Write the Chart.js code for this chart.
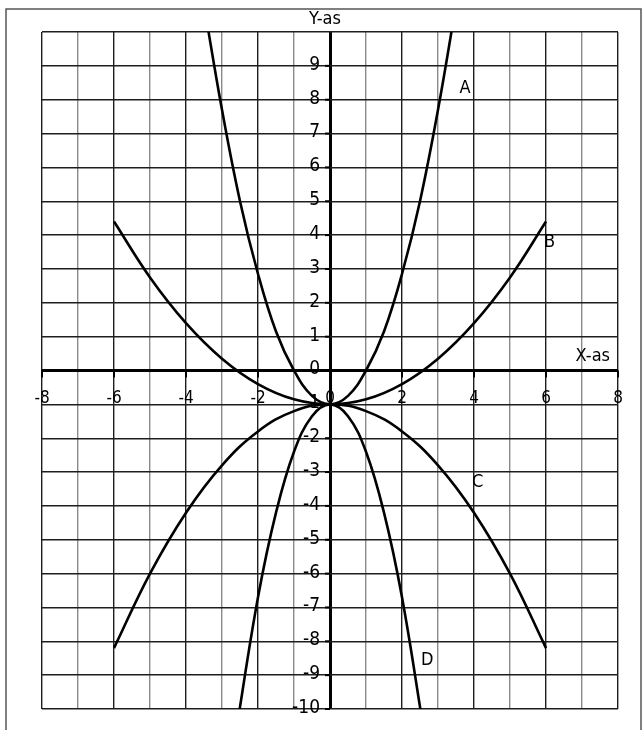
<!DOCTYPE html>
<html>
<head>
<meta charset="utf-8">
<script src="https://cdn.jsdelivr.net/npm/chart.js@4/dist/chart.umd.min.js"></script>
<style>
  html, body { margin: 0; padding: 0; background: #fff; }
  #wrap { width: 643px; height: 730px; position: relative; }
</style>
</head>
<body>
<div id="wrap"><canvas id="mycanvas" width="643" height="730"></canvas></div>
<script>
// values
var xA = [-3.5, -3, -2.5, -2, -1.5, -1, -0.5, 0, 0.5, 1, 1.5, 2, 2.5, 3, 3.5];
var yA = [10.8, 7.7, 5.0, 2.85, 1.15, 0, -0.75, -1, -0.75, 0, 1.15, 2.85, 5.0, 7.7, 10.8];

var xB = [-6, -5, -4, -3, -2, -1, 0, 1, 2, 3, 4, 5, 6];
var yB = [4.4, 2.75, 1.4, 0.35, -0.4, -0.85, -1, -0.85, -0.4, 0.35, 1.4, 2.75, 4.4];

var xC = [-6, -5, -4, -3, -2, -1, 0, 1, 2, 3, 4, 5, 6];
var yC = [-8.2, -6.0, -4.2, -2.8, -1.8, -1.2, -1, -1.2, -1.8, -2.8, -4.2, -6.0, -8.2];

var xD = [-2.6, -2, -1.5, -1, -0.5, 0, 0.5, 1, 1.5, 2, 2.6];
var yD = [-10.6, -6.7, -4.2, -2.4, -1.35, -1, -1.35, -2.4, -4.2, -6.7, -10.6];

var xTickLabels = ["-8", "-6", "-4", "-2", "0", "2", "4", "6", "8"];
var xTickValues = [-8, -6, -4, -2, 0, 2, 4, 6, 8];
var yTickValues = [9, 8, 7, 6, 5, 4, 3, 2, 1, 0, -1, -2, -3, -4, -5, -6, -7, -8, -9, -10];

var curveNames = ["A", "B", "C", "D"];
var curveLabelX = [3.75, 6.1, 4.1, 2.7];
var curveLabelY = [8.35, 3.8, -3.3, -8.55];

function pts(xs, ys) {
	var out = [];
	for (var i in xs) out.push({x: xs[i], y: ys[i]});
	return out;
}

var FONT = '"DejaVu Sans Condensed", "DejaVu Sans", sans-serif';

var lineStyle = {
	borderColor: '#000',
	borderWidth: 2.6,
	pointRadius: 0,
	showLine: true,
	fill: false,
	tension: 0.4
};

var axesPlugin = {
	id: 'axesText',
	afterDraw: function(chart) {
		var c = chart.ctx;
		var sx = chart.scales.x, sy = chart.scales.y;
		var x0 = sx.getPixelForValue(0), y0 = sy.getPixelForValue(0);
		c.save();
		c.strokeStyle = '#000';
		c.fillStyle = '#000';
		c.lineWidth = 2;
		// tick marks on x axis
		for (var i in xTickValues) {
			var px = sx.getPixelForValue(xTickValues[i]);
			c.beginPath(); c.moveTo(px, y0); c.lineTo(px, y0 + 7); c.stroke();
		}
		// tick marks on y axis
		for (var j in yTickValues) {
			var py = sy.getPixelForValue(yTickValues[j]);
			c.beginPath(); c.moveTo(x0 - 5, py); c.lineTo(x0, py); c.stroke();
		}
		// x labels
		c.font = '17px ' + FONT;
		c.textAlign = 'center';
		c.textBaseline = 'middle';
		for (var k in xTickLabels) {
			c.fillText(xTickLabels[k], sx.getPixelForValue(xTickValues[k]), y0 + 28);
		}
		// y labels
		c.font = '19px ' + FONT;
		c.textAlign = 'right';
		for (var m in yTickValues) {
			c.fillText(String(yTickValues[m]), x0 - 10, sy.getPixelForValue(yTickValues[m]) - 1);
		}
		// axis titles
		c.font = '18px ' + FONT;
		c.textAlign = 'center';
		c.fillText('Y-as', x0 - 5, sy.getPixelForValue(10) - 13);
		c.fillText('X-as', sx.getPixelForValue(7.3), y0 - 14);
		// curve names
		for (var n in curveNames) {
			c.fillText(curveNames[n], sx.getPixelForValue(curveLabelX[n]), sy.getPixelForValue(curveLabelY[n]));
		}
		// outer frame of the sheet
		c.strokeStyle = '#555';
		c.lineWidth = 1.5;
		c.beginPath();
		c.moveTo(6, 730); c.lineTo(6, 9); c.lineTo(641, 9); c.lineTo(641, 730);
		c.stroke();
		c.restore();
	}
};

var ctx = document.getElementById('mycanvas');

var graph = new Chart(ctx, {
	type: 'scatter',
	data: {
		datasets: [
			Object.assign({label: 'A', data: pts(xA, yA)}, lineStyle),
			Object.assign({label: 'B', data: pts(xB, yB)}, lineStyle),
			Object.assign({label: 'C', data: pts(xC, yC)}, lineStyle),
			Object.assign({label: 'D', data: pts(xD, yD)}, lineStyle)
		]
	},
	options: {
		responsive: false,
		animation: false,
		events: [],
		layout: { padding: { left: 42, right: 25, top: 32, bottom: 21 } },
		plugins: { legend: { display: false }, tooltip: { enabled: false } },
		scales: {
			x: {
				type: 'linear', min: -8, max: 8,
				ticks: { display: false, stepSize: 1 },
				border: { display: false },
				grid: {
					drawTicks: false,
					color: function(c) {
						if (c.tick.value === 0) return '#000';
						return Math.abs(c.tick.value) % 2 === 0 ? '#1e1e1e' : '#8a8a8a';
					},
					lineWidth: function(c) { return c.tick.value === 0 ? 3 : 1.4; }
				}
			},
			y: {
				type: 'linear', min: -10, max: 10,
				ticks: { display: false, stepSize: 1 },
				border: { display: false },
				grid: {
					drawTicks: false,
					color: function(c) { return c.tick.value === 0 ? '#000' : '#1e1e1e'; },
					lineWidth: function(c) { return c.tick.value === 0 ? 3 : 1.4; }
				}
			}
		}
	},
	plugins: [axesPlugin]
});
</script>
</body>
</html>
